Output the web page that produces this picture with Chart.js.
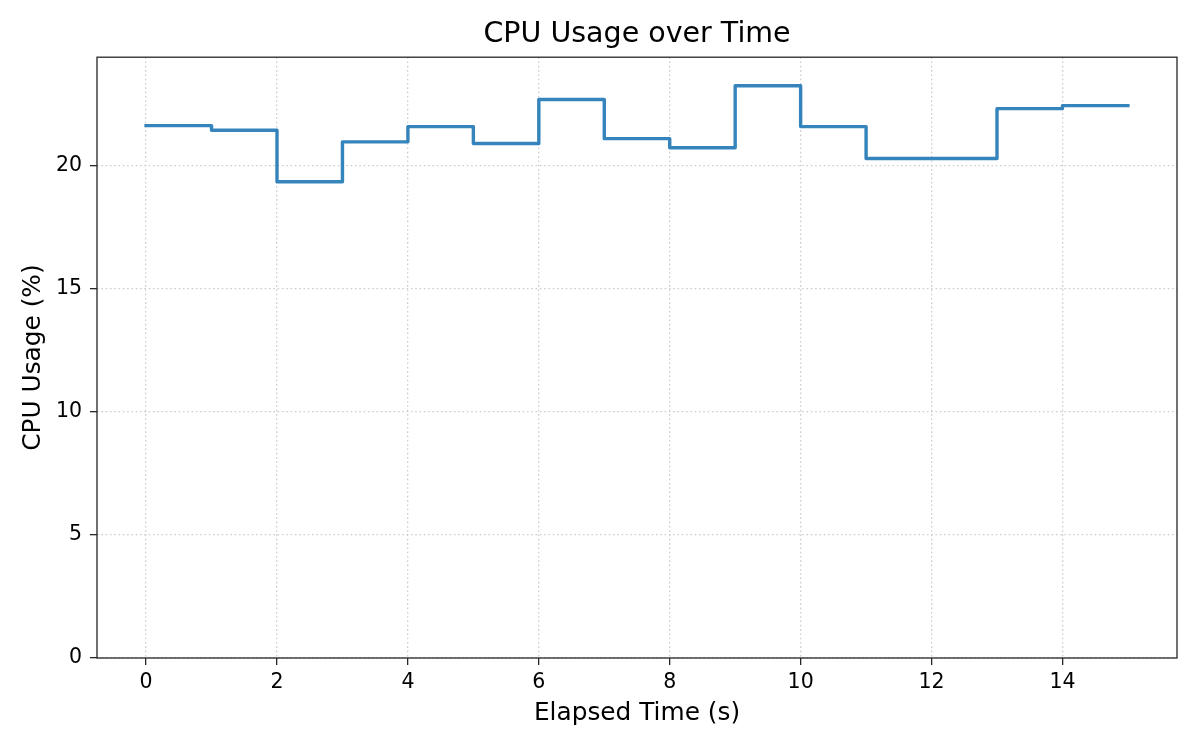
<!DOCTYPE html>
<html>
<head>
<meta charset="utf-8">
<title>CPU Usage over Time</title>
<script src="https://cdn.jsdelivr.net/npm/chart.js@4.4.1/dist/chart.umd.min.js"></script>
<style>
    html, body { margin: 0; padding: 0; background: #fff; }
    #wrap { width: 1200px; height: 750px; }
</style>
</head>
<body>
<div id="wrap"><canvas id="cpuChart" width="1200" height="750"></canvas></div>
<script>
// elapsed seconds and CPU usage (step-post)
const elapsed = [0, 1, 2, 3, 4, 5, 6, 7, 8, 9, 10, 11, 12, 13, 14, 15];
const cpuUsage = [21.64, 21.45, 19.36, 20.98, 21.60, 20.91, 22.70, 21.11,
                  20.74, 23.26, 21.60, 20.30, 20.30, 22.33, 22.45, 22.45];

const xTicks = [0, 2, 4, 6, 8, 10, 12, 14];
const yTicks = [0, 5, 10, 15, 20];

const FONT = "'DejaVu Sans', sans-serif";
const SPINE = '#262626';

// matplotlib-style box around the plot area
const framePlugin = {
    id: 'frame',
    afterDatasetsDraw(chart) {
        const { ctx, chartArea: a } = chart;
        ctx.save();
        ctx.strokeStyle = SPINE;
        ctx.lineWidth = 1.3;
        ctx.strokeRect(a.left, a.top, a.right - a.left, a.bottom - a.top);
        ctx.restore();
    }
};

const gridCommon = {
    color: '#cdcdcd',
    lineWidth: 1.3,
    drawTicks: true,
    tickLength: 7,
    tickColor: SPINE,
    tickWidth: 1.3
};

const ctx = document.getElementById('cpuChart').getContext('2d');

new Chart(ctx, {
    type: 'line',
    data: {
        datasets: [{
            label: 'CPU Usage',
            data: elapsed.map((t, i) => ({ x: t, y: cpuUsage[i] })),
            stepped: 'before',
            borderColor: 'rgba(31,119,180,0.9)',
            borderWidth: 3.4,
            borderCapStyle: 'square',
            borderJoinStyle: 'round',
            pointRadius: 0,
            fill: false
        }]
    },
    options: {
        responsive: false,
        devicePixelRatio: 1,
        animation: false,
        layout: { padding: { left: 0, right: 23, top: 0, bottom: 0 } },
        plugins: {
            legend: { display: false },
            tooltip: { enabled: false },
            title: {
                display: true,
                fullSize: false,
                text: 'CPU Usage over Time',
                color: '#000',
                font: { family: FONT, size: 28.5, weight: 'normal' },
                padding: { top: 17, bottom: 6 }
            }
        },
        scales: {
            x: {
                type: 'linear',
                min: -0.75,
                max: 15.75,
                afterFit: (scale) => { scale.height = 92; },
                afterBuildTicks: (scale) => { scale.ticks = xTicks.map(v => ({ value: v })); },
                grid: gridCommon,
                border: { display: false, dash: [1.6, 2.7] },
                ticks: {
                    color: '#000',
                    padding: 5,
                    maxRotation: 0,
                    font: { family: FONT, size: 20.5 },
                    callback: (v) => String(v)
                },
                title: {
                    display: true,
                    text: 'Elapsed Time (s)',
                    color: '#000',
                    font: { family: FONT, size: 24.8 },
                    padding: { top: 0, bottom: 22 }
                }
            },
            y: {
                min: 0,
                max: 24.42,
                afterFit: (scale) => { scale.width = 97; },
                afterBuildTicks: (scale) => { scale.ticks = yTicks.map(v => ({ value: v })); },
                grid: gridCommon,
                border: { display: false, dash: [1.6, 2.7] },
                ticks: {
                    color: '#000',
                    padding: 8,
                    font: { family: FONT, size: 20.5 },
                    callback: (v) => String(v)
                },
                title: {
                    display: true,
                    text: 'CPU Usage (%)',
                    color: '#000',
                    font: { family: FONT, size: 24.8 },
                    padding: { top: 19, bottom: 0 }
                }
            }
        }
    },
    plugins: [framePlugin]
});
</script>
</body>
</html>
